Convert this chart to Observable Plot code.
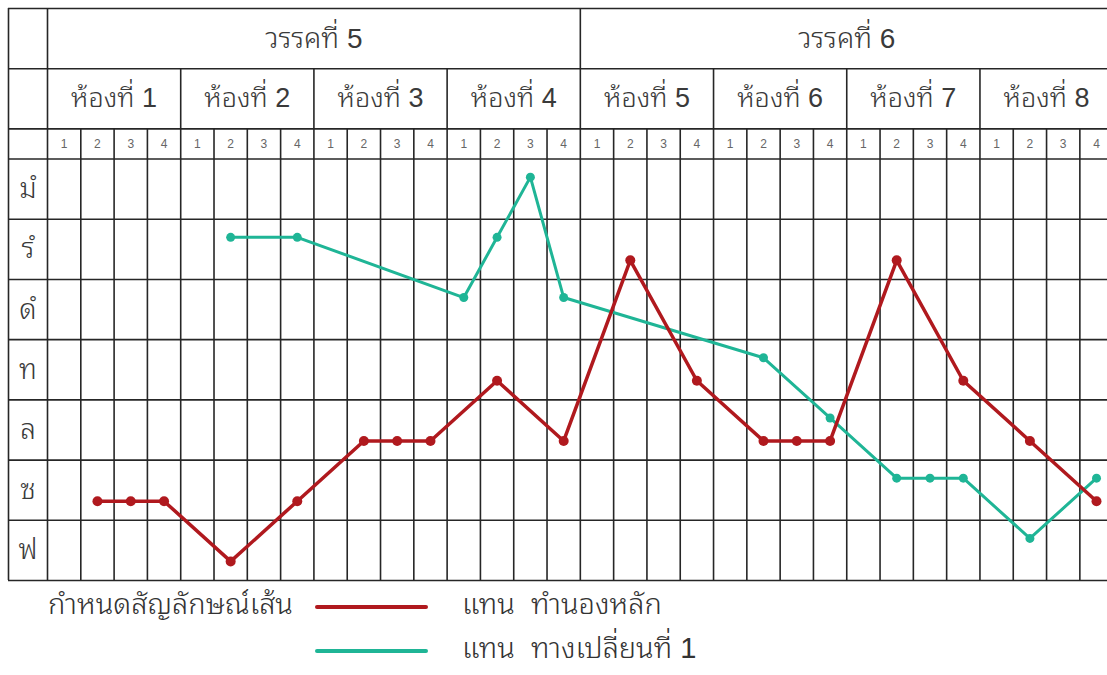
<!DOCTYPE html>
<html><head><meta charset="utf-8">
<script src="https://cdn.jsdelivr.net/npm/d3@7"></script>
<script src="https://cdn.jsdelivr.net/npm/@observablehq/plot@0.6"></script>
<style>
body{margin:0;background:#fff;font-family:"Liberation Sans","Noto Sans Thai Looped","Loma","Garuda","Norasi","Sarabun","Noto Sans Thai","Noto Sans",sans-serif;overflow:hidden;}
#chart svg{display:block}
.legend{position:relative;width:1107px;height:92px;color:#333;font-size:29px;font-weight:300;}
.legend .t{position:absolute;line-height:1;white-space:pre;transform:translateY(-55%);}
.legend .ln{position:absolute;height:4px;border-radius:2px;}
</style></head><body>
<div id="chart"></div>
<div class="legend" id="legend"></div>
<script>
// ---- data ----
const phrases = ["วรรคที่ 5", "วรรคที่ 6"];
const rooms = ["ห้องที่ 1","ห้องที่ 2","ห้องที่ 3","ห้องที่ 4","ห้องที่ 5","ห้องที่ 6","ห้องที่ 7","ห้องที่ 8"];
const beatLabels = ["1","2","3","4"];
const notes = ["มํ","รํ","ดํ","ท","ล","ซ","ฟ"];
const mainBeats = [2,3,4,6,8,10,11,12,14,16,18,20,22,23,24,26,28,30,32];
const mainNotes = ["ซ","ซ","ซ","ฟ","ซ","ล","ล","ล","ท","ล","รํ","ท","ล","ล","ล","รํ","ท","ล","ซ"];
const altBeats = [6,8,13,14,15,16,22,24,26,27,28,30,32];
const altNotes = ["รํ","รํ","ดํ","รํ","มํ","ดํ","ท","ล","ซ","ซ","ซ","ฟ","ซ"];
const seriesNames = ["ทำนองหลัก","ทางเปลี่ยนที่ 1"];
const legendTitle = "กำหนดสัญลักษณ์เส้น";
const legendWord = "แทน";
const colors = ["#b0191e","#1fb596"];

// ---- derived tables ----
const nBeats = rooms.length * beatLabels.length;
const perPhrase = nBeats / phrases.length;
const mainData = mainBeats.map((b,i)=>({beat:b, note:mainNotes[i]}));
const altData = altBeats.map((b,i)=>({beat:b, note:altNotes[i]}));
const beatCells = rooms.flatMap((r,ri)=>beatLabels.map((l,bi)=>({x: ri*beatLabels.length+bi+0.5, label:l})));
const roomCells = rooms.map((r,ri)=>({x: ri*beatLabels.length + beatLabels.length/2, label:r}));
const phraseCells = phrases.map((p,pi)=>({x: pi*perPhrase + perPhrase/2, label:p}));
const noteCells = notes.map((n,i)=>({y: 3 + i, label:n}));

const xMin = -39/33.3, xMax = 31.83;
const beatLines = d3.range(0, nBeats+1).filter(b => b % beatLabels.length !== 0 && b < xMax);
const roomLines = d3.range(0, nBeats+1, beatLabels.length).filter(b => b % perPhrase !== 0 && b < xMax);
const phraseLines = d3.range(0, nBeats+1, perPhrase).filter(b => b < xMax).concat([xMin]);
const hLines = [0,1,2,2.5].concat(notes.map((_,i)=>3.5+i));

const grid = "#262626", gw = 1.6;
const font = '"Liberation Sans","Noto Sans Thai Looped","Loma","Garuda","Norasi","Sarabun","Noto Sans Thai","Noto Sans",sans-serif';
const noteY = d => 3 + notes.indexOf(d.note);
const beatX = d => d.beat - 0.5;

const chart = Plot.plot({
  width: 1107, height: 583,
  marginLeft: 8, marginRight: 0, marginTop: 8, marginBottom: 3,
  x: {domain:[xMin, xMax], range:[8,1107], axis:null},
  y: {domain:[0, 9.5], range:[8,580], axis:null},
  style: {fontFamily: font, background:"#fff"},
  marks: [
    Plot.ruleY(hLines, {y: d=>d, x1: xMin, x2: xMax, stroke: grid, strokeWidth: gw}),
    Plot.ruleX(beatLines, {x: d=>d, y1: 2, y2: 9.5, stroke: grid, strokeWidth: gw}),
    Plot.ruleX(roomLines, {x: d=>d, y1: 1, y2: 9.5, stroke: grid, strokeWidth: gw}),
    Plot.ruleX(phraseLines, {x: d=>d, y1: 0, y2: 9.5, stroke: grid, strokeWidth: gw}),
    Plot.text(phraseCells, {x:"x", y:0.5, text:"label", fontSize:28, fontWeight:300, fill:"#3a3a3a"}),
    Plot.text(roomCells, {x:"x", y:1.5, text:"label", fontSize:27, fontWeight:300, fill:"#3a3a3a"}),
    Plot.text(beatCells, {x:"x", y:2.25, text:"label", fontSize:12, fill:"#666"}),
    Plot.text(noteCells, {x: xMin/2, y:"y", text:"label", fontSize:28, fontWeight:300, fill:"#3a3a3a"}),
    Plot.line(altData, {x: beatX, y: noteY, stroke: colors[1], strokeWidth: 3, dy: -12}),
    Plot.dot(altData, {x: beatX, y: noteY, r: 4.5, fill: colors[1], dy: -12}),
    Plot.line(mainData, {x: beatX, y: noteY, stroke: colors[0], strokeWidth: 3.5, dy: 11}),
    Plot.dot(mainData, {x: beatX, y: noteY, r: 5, fill: colors[0], dy: 11})
  ]
});
document.getElementById("chart").append(chart);

// ---- legend ----
const lg = document.getElementById("legend");
function add(cls, left, top, text, extra){
  const e = document.createElement("div");
  e.className = cls; e.style.left = left+"px"; e.style.top = top+"px";
  if (text) e.textContent = text;
  Object.assign(e.style, extra||{});
  lg.append(e);
}
add("t", 48, 23, legendTitle);
seriesNames.forEach((s,i)=>{
  const top = 23 + i*44;
  add("ln", 315, top-1, null, {width:"113px", background: colors[i]});
  add("t", 462, top, legendWord + "  " + s);
});
</script>
</body></html>
